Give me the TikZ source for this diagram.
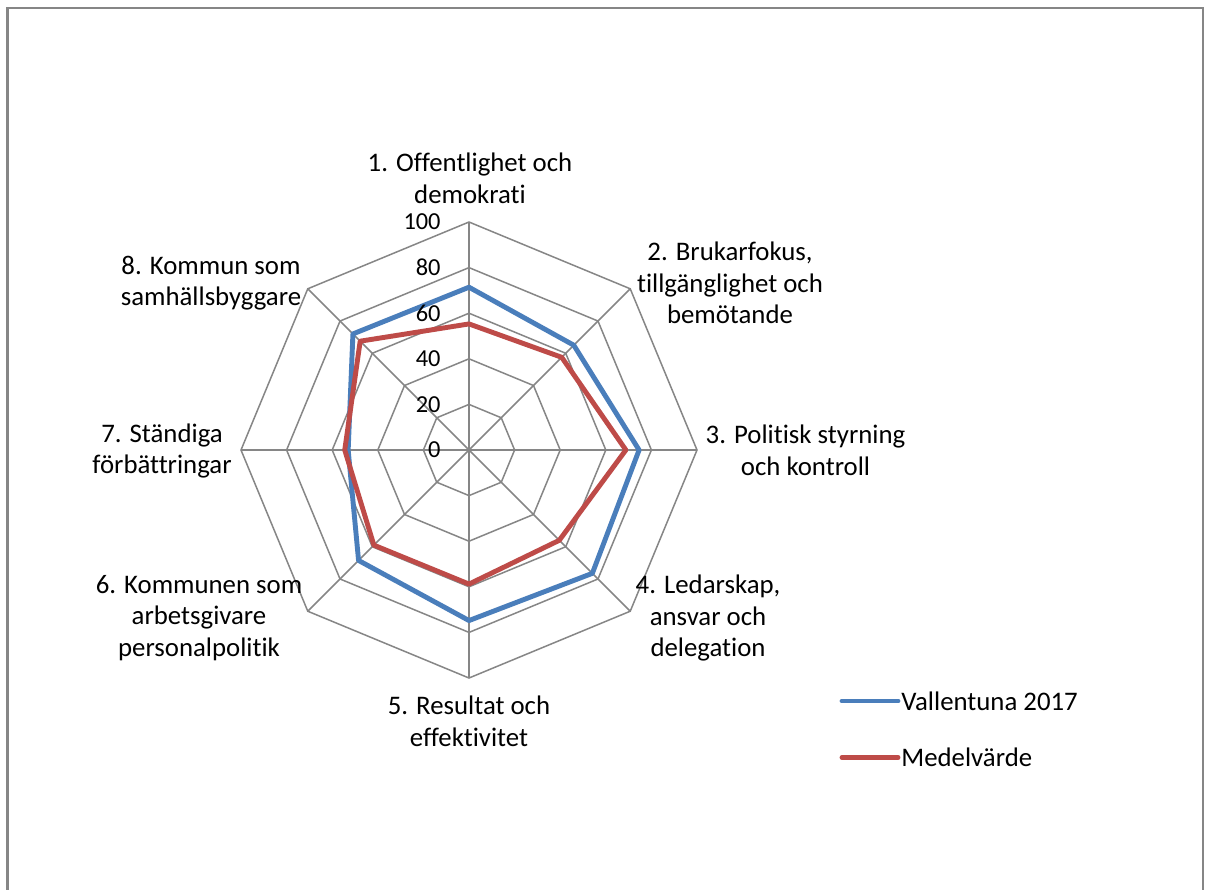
\documentclass[tikz,border=0pt]{standalone}
\usepackage{fontspec}
\setmainfont{Carlito}[Ligatures={NoCommon}]
\definecolor{gridgray}{HTML}{868686}
\definecolor{serblue}{HTML}{4A7EBB}
\definecolor{serred}{HTML}{BE4B48}
\tikzset{
  gridline/.style={draw=gridgray, line width=0.75bp},
  frameline/.style={draw=gridgray, line width=1.1bp},
  serline/.style={line width=2.45bp, line join=round, line cap=round},
  axlabel/.style={font=\fontsize{13.4bp}{15.8bp}\selectfont, align=center, inner sep=0pt},
  ticklabel/.style={font=\fontsize{12.2bp}{14bp}\selectfont, anchor=east, inner sep=0pt},
  legtext/.style={font=\fontsize{13.4bp}{15.8bp}\selectfont, anchor=west, inner sep=0pt}
}
\begin{document}
\begin{tikzpicture}[x=0.5bp, y=-0.5bp]
\useasboundingbox (0,0) rectangle (1208,889);
\fill[white] (0,0) rectangle (1208,889);
\draw[frameline] (7.5,1000) -- (7.5,8.2) -- (1202.7,8.2) -- (1202.7,1000);
\def\cx{469}
\def\cy{450}
\def\R{2.28}
% grid polygons
\foreach \lev in {20,40,60,80,100}{
  \draw[gridline] ({\cx+\lev*\R*cos(-90)},{\cy+\lev*\R*sin(-90)})
    \foreach \k in {1,...,7}{ -- ({\cx+\lev*\R*cos(45*\k-90)},{\cy+\lev*\R*sin(45*\k-90)}) } -- cycle;
}
\coordinate (c) at (\cx,\cy);
\foreach \k in {0,...,7}{
  \draw[gridline] (c) -- ({\cx+100*\R*cos(45*\k-90)},{\cy+100*\R*sin(45*\k-90)});
}
% series
\def\serpath#1#2#3#4#5#6#7#8{
  ({\cx+#1*\R*cos(-90)},{\cy+#1*\R*sin(-90)}) --
  ({\cx+#2*\R*cos(-45)},{\cy+#2*\R*sin(-45)}) --
  ({\cx+#3*\R*cos(0)},{\cy+#3*\R*sin(0)}) --
  ({\cx+#4*\R*cos(45)},{\cy+#4*\R*sin(45)}) --
  ({\cx+#5*\R*cos(90)},{\cy+#5*\R*sin(90)}) --
  ({\cx+#6*\R*cos(135)},{\cy+#6*\R*sin(135)}) --
  ({\cx+#7*\R*cos(180)},{\cy+#7*\R*sin(180)}) --
  ({\cx+#8*\R*cos(225)},{\cy+#8*\R*sin(225)}) -- cycle}
\draw[serline, serblue] \serpath{71.4}{65}{74.6}{76.5}{74.8}{68.5}{53}{72};
\draw[serline, serred] \serpath{55.3}{57.5}{68.8}{56}{58.8}{59}{54.5}{67.5};
% tick labels
\foreach \lev/\nm in {0/t0,20/t20,40/t40,60/t60,80/t80,100/t100}{
  \node[ticklabel] (\nm) at (441,{\cy-\lev*\R}) {\lev};
}
% axis labels
\node[axlabel] (a1) at (470,178) {1. Offentlighet och\\demokrati};
\node[axlabel] (a2) at (730,283) {2. Brukarfokus,\\tillgänglighet och\\bemötande};
\node[axlabel] (a3) at (805.5,450) {3. Politisk styrning\\och kontroll};
\node[axlabel] (a4) at (708,618) {4. Ledarskap,\\ansvar och\\delegation};
\node[axlabel] (a5) at (469,721) {5. Resultat och\\effektivitet};
\node[axlabel] (a6) at (199,618) {6. Kommunen som\\arbetsgivare\\personalpolitik};
\node[axlabel] (a7) at (162,451) {7. Ständiga\\förbättringar};
\node[axlabel] (a8) at (211,283) {8. Kommun som\\samhällsbyggare};
% legend
\coordinate (lb1) at (842,701);
\coordinate (lb2) at (898,701);
\coordinate (lr1) at (842,757.5);
\coordinate (lr2) at (898,757.5);
\draw[serline, serblue] (lb1) -- (lb2);
\draw[serline, serred] (lr1) -- (lr2);
\node[legtext] (lgb) at (901,701) {Vallentuna 2017};
\node[legtext] (lgr) at (901,757.5) {Medelvärde};
\end{tikzpicture}
\end{document}
